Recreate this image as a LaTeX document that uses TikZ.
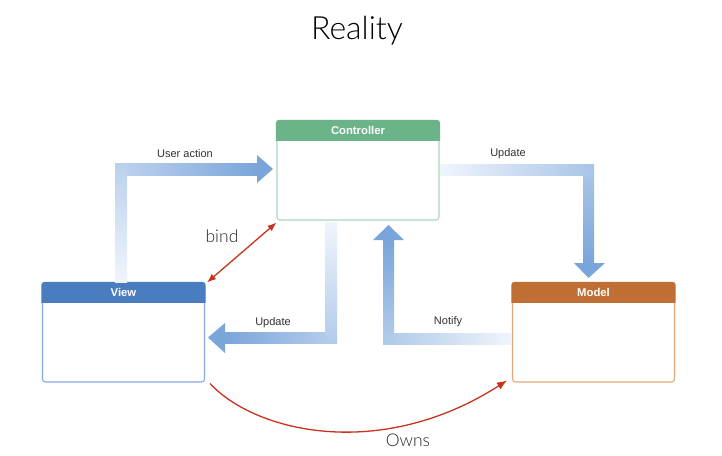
\documentclass[tikz,border=0pt]{standalone}
\usepackage{fontspec}
\setmainfont{Liberation Sans}
\IfFontExistsTF{Lato Light}{\newfontfamily\lightfont{Lato Light}}{\newfontfamily\lightfont{Lato}}
\usetikzlibrary{arrows.meta,calc}
\definecolor{strong}{RGB}{122,165,218}
\definecolor{faded}{RGB}{240,245,252}
\definecolor{ctrlhead}{RGB}{107,180,138}
\definecolor{ctrlline}{RGB}{169,217,187}
\definecolor{viewhead}{RGB}{74,124,192}
\definecolor{viewline}{RGB}{135,170,222}
\definecolor{modelhead}{RGB}{191,110,52}
\definecolor{modelline}{RGB}{227,167,123}
\definecolor{relred}{RGB}{200,50,30}
\definecolor{labelgray}{RGB}{50,50,50}
\tikzset{
  box/.style={rounded corners=3pt, minimum width=162pt, minimum height=99pt, inner sep=0pt, line width=1.1pt, fill=white},
  headtext/.style={text=white, font=\bfseries\fontsize{11.3}{13}\selectfont},
  flowlabel/.style={text=labelgray, font=\fontsize{11}{13}\selectfont},
  biglabel/.style={text=black!85, font=\lightfont\fontsize{17.5}{20}\selectfont},
  relarrow/.style={draw=relred, line width=1.3pt},
}
\begin{document}
\begin{tikzpicture}[x=1pt,y=-1pt]
\useasboundingbox (0,0) rectangle (722,455);
\fill[white] (0,0) rectangle (722,455);

% title
\node[font=\lightfont\fontsize{32}{36}\selectfont, text=black] (title) at (357,31) {Reality};

% boxes
\node[box, draw=ctrlline] (ctrl) at (358,170.5) {};
\node[box, draw=viewline] (view) at (123.5,332.5) {};
\node[box, draw=modelline] (model) at (593.5,332.5) {};

% headers
\foreach \n/\c in {ctrl/ctrlhead, view/viewhead, model/modelhead}{
  \begin{scope}
    \clip ($(\n.north west)+(-1,-1)$) rectangle ($(\n.north east)+(1,20)$);
    \fill[\c, rounded corners=3pt] ($(\n.north west)+(-0.55,-0.55)$) rectangle ($(\n.south east)+(0.55,0.55)$);
  \end{scope}
}
\node[headtext] (ctrlt) at ($(ctrl.north)+(0,10.5)$) {Controller};
\node[headtext] (viewt) at ($(view.north)+(0,10.5)$) {View};
\node[headtext] (modelt) at ($(model.north)+(0,10.5)$) {Model};

% ---- fat arrow 1: User action (View -> Controller)
\colorlet{c1}{strong!46!faded}
\shade[top color=c1, bottom color=faded] (115,163) rectangle (127,282);
\shade[left color=c1, right color=strong] (127,163) rectangle (257.5,175);
\fill[strong] (257,155) -- (273,169) -- (257,183) -- cycle;
\node[flowlabel] (ua) at (185,154) {User action};

% ---- fat arrow 2: Update (Controller -> Model)
\colorlet{c2}{strong!61!faded}
\shade[left color=faded, right color=c2] (440,164) rectangle (594,175);
\shade[top color=c2, bottom color=strong] (583,175) rectangle (594,263.5);
\fill[strong] (574,263) -- (605,263) -- (588.5,278) -- cycle;
\node[flowlabel] (up1) at (508,154) {Update};

% ---- fat arrow 3: Update (Controller -> View)
\colorlet{c3}{strong!53!faded}
\shade[top color=faded, bottom color=c3] (325,222) rectangle (337,343);
\shade[left color=strong, right color=c3] (224.5,332) rectangle (325,343);
\fill[strong] (225,323) -- (225,353) -- (208,337.5) -- cycle;
\node[flowlabel] (up2) at (273,323) {Update};

% ---- fat arrow 4: Notify (Model -> Controller)
\colorlet{c4}{strong!56!faded}
\shade[left color=c4, right color=faded] (383,333) rectangle (511,344);
\shade[top color=strong, bottom color=c4] (383,239.5) rectangle (394,333);
\fill[strong] (373,240) -- (404,240) -- (388.5,225) -- cycle;
\node[flowlabel] (nt) at (448,322) {Notify};

% ---- red relations
\draw[relarrow, {Latex[length=9pt,width=7pt]}-{Latex[length=9pt,width=7pt]}]
  ($(view.north east)+(2,0)$) -- ($(ctrl.south west)+(0,2)$);
\node[biglabel] (bind) at (222,236) {bind};

\draw[relarrow, -{Latex[length=10pt,width=8pt]}]
  ($(view.south east)+(5,1)$) .. controls (255,432) and (380,462) .. ($(model.south west)+(-5,-2)$);
\node[biglabel] (owns) at (408,440) {Owns};
\end{tikzpicture}
\end{document}
